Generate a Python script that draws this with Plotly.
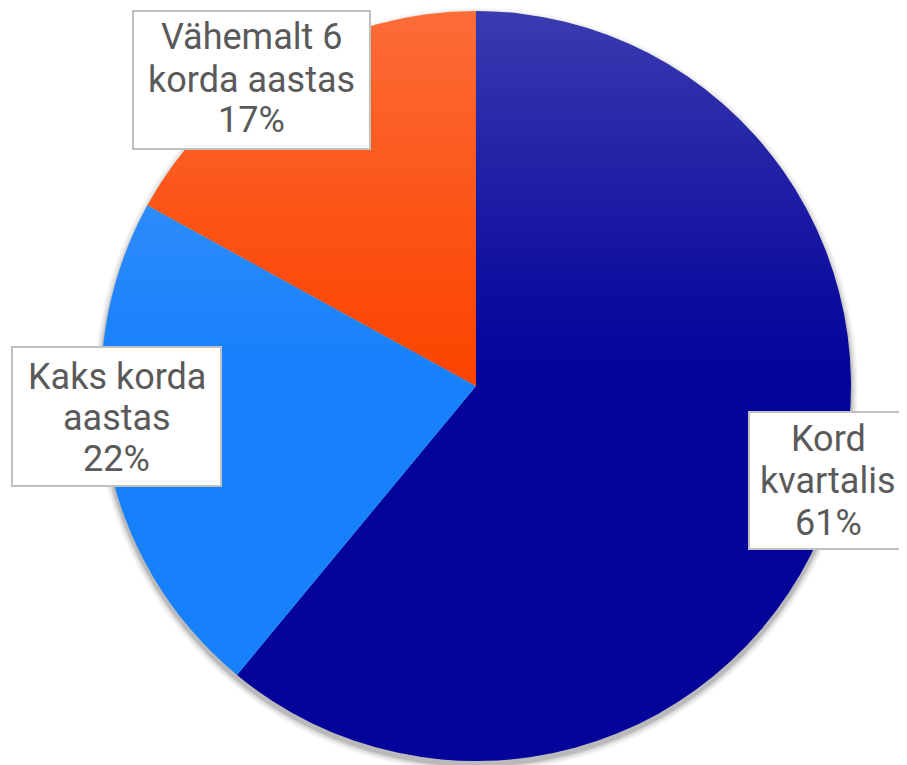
import base64
import struct
import zlib

import plotly.graph_objects as go

labels = ["Kord kvartalis", "Kaks korda aastas", "Vähemalt 6 korda aastas"]
label_lines = [["Kord", "kvartalis"], ["Kaks korda", "aastas"], ["Vähemalt 6", "korda aastas"]]
values = [61, 22, 17]
colors = ["#04049b", "#1780fb", "#fc4400"]

W, H = 907, 765
OFF = 8  # page body margin
cx, cy, r = 476 - OFF, 386 - OFF, 375

# label boxes (x0, y0, x1, y1) and line centre y's, in page pixels
boxes = [(749, 412, 907, 549), (12, 347, 221, 486), (133, 11, 370, 149)]
line_y = [[439, 481, 523], [377, 418, 459], [37, 80, 120]]


def px(x):
    return (x - OFF) / W


def py(y):
    return 1 - (y - OFF) / H


def gradient_png(n=128, top_alpha=0.22):
    rows = []
    for i in range(n):
        t = i / (n - 1)
        a = top_alpha * max(0.0, 1 - 2 * t) ** 1.15
        rows.append(b"\x00" + bytes([255, 255, 255, int(round(a * 255))]))
    raw = b"".join(rows)

    def chunk(tag, data):
        c = struct.pack(">I", len(data)) + tag + data
        return c + struct.pack(">I", zlib.crc32(tag + data) & 0xFFFFFFFF)

    png = b"\x89PNG\r\n\x1a\n"
    png += chunk(b"IHDR", struct.pack(">IIBBBBB", 1, n, 8, 6, 0, 0, 0))
    png += chunk(b"IDAT", zlib.compress(raw, 9))
    png += chunk(b"IEND", b"")
    return "data:image/png;base64," + base64.b64encode(png).decode()


fig = go.Figure()
fig.add_trace(go.Pie(
    labels=labels, values=values, sort=False, direction="clockwise", rotation=0,
    marker=dict(colors=colors, line=dict(width=0)),
    textinfo="none", hoverinfo="label+percent", showlegend=False,
    domain=dict(x=[(cx - r) / W, (cx + r) / W], y=[(H - cy - r) / H, (H - cy + r) / H]),
))

# soft shadow under the pie
for grow, op in [(7, 0.04), (5, 0.06), (3, 0.09), (1.5, 0.11)]:
    dy = 4
    fig.add_shape(type="circle", xref="paper", yref="paper",
                  x0=(cx - r - grow) / W, x1=(cx + r + grow) / W,
                  y0=(H - cy - dy - r - grow) / H, y1=(H - cy - dy + r + grow) / H,
                  fillcolor=f"rgba(0,0,0,{op})", line=dict(width=0), layer="below")

# light vertical sheen on the upper half
fig.add_layout_image(
    source=gradient_png(), xref="paper", yref="paper",
    x=(cx - r) / W, y=1 - (cy - r) / H, sizex=2 * r / W, sizey=2 * r / H,
    xanchor="left", yanchor="top", sizing="stretch", layer="above", opacity=1,
)

for (x0, y0, x1, y1), lines, ys, v in zip(boxes, label_lines, line_y, values):
    fig.add_shape(type="rect", xref="paper", yref="paper",
                  x0=px(x0), x1=px(x1), y0=py(y1), y1=py(y0),
                  fillcolor="white", line=dict(color="#c0c0c0", width=2), layer="above")
    xc = px((x0 + x1) / 2)
    for txt, yy in zip(lines + [f"{v}%"], ys):
        fig.add_annotation(
            x=xc, y=py(yy), xref="paper", yref="paper",
            xanchor="center", yanchor="middle", showarrow=False,
            height=40, valign="middle", borderpad=0,
            text=txt, font=dict(family="Roboto", size=36, color="#5a5a5a"),
        )

fig.update_layout(width=W, height=H, margin=dict(l=0, r=0, t=0, b=0),
                  paper_bgcolor="white", plot_bgcolor="white")
fig.write_html("out.html")
